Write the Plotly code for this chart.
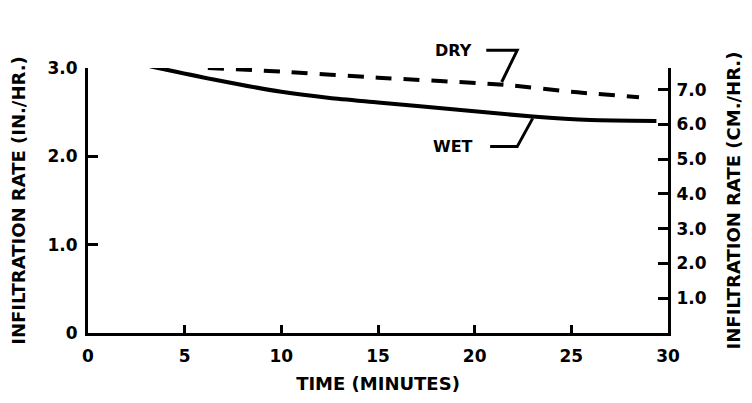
import numpy as np
import plotly.graph_objects as go

# Data
wet_t = [3.2, 6.5, 10.0, 12.5, 15.0, 19.0, 23.0, 26.0, 29.4]
wet_v = [3.02, 2.87, 2.73, 2.66, 2.61, 2.53, 2.45, 2.41, 2.40]
dry_t = [6.2, 10.0, 15.0, 21.5, 25.0, 28.5]
dry_v = [3.00, 2.96, 2.89, 2.81, 2.73, 2.67]

x_ticks = [0, 5, 10, 15, 20, 25, 30]
x_ticklabels = ["0", "5", "10", "15", "20", "25", "30"]
yl_ticks = [0, 1, 2, 3]
yl_ticklabels = ["0", "1.0", "2.0", "3.0"]
yr_ticks = [1, 2, 3, 4, 5, 6, 7]
yr_ticklabels = ["1.0", "2.0", "3.0", "4.0", "5.0", "6.0", "7.0"]
CM_PER_IN = 2.54
Y_MAX = 3.0

FONT = "DejaVu Sans"
tickfont = dict(family=FONT, size=17, color="black", weight="bold")
titlefont = dict(family=FONT, size=18, color="black", weight="bold")
labelfont = dict(family=FONT, size=16, color="black", weight="bold")

fig = go.Figure()
fig.add_trace(go.Scatter(x=wet_t, y=wet_v, mode="lines", name="WET",
                         line=dict(color="black", width=4, shape="spline", smoothing=0.6)))
fig.add_trace(go.Scatter(x=dry_t, y=dry_v, mode="lines", name="DRY",
                         line=dict(color="black", width=4, dash="16px,12px",
                                   shape="spline", smoothing=0.6)))
# invisible trace to activate the right axis
fig.add_trace(go.Scatter(x=[0], y=[0], yaxis="y2", mode="markers",
                         marker=dict(opacity=0), showlegend=False, hoverinfo="skip"))

# leader lines for labels (y in paper units so they are not clipped)
def py(v):
    return v / Y_MAX

dry_pt_t = 21.4
dry_pt_v = float(np.interp(dry_pt_t, dry_t, dry_v))
wet_pt_t = 23.0
wet_pt_v = float(np.interp(wet_pt_t, wet_t, wet_v))
lw = dict(color="black", width=3)
fig.add_shape(type="path", xref="x", yref="paper",
              path=f"M 20.6 {py(3.2)} L 22.2 {py(3.2)} L {dry_pt_t} {py(dry_pt_v + 0.03)}",
              line=lw)
fig.add_shape(type="path", xref="x", yref="paper",
              path=f"M 20.8 {py(2.11)} L 22.2 {py(2.11)} L {wet_pt_t} {py(wet_pt_v - 0.02)}",
              line=lw)

fig.add_annotation(x=18.9, y=py(3.2), text="DRY", showarrow=False, font=labelfont,
                   xref="x", yref="paper", yanchor="middle", xanchor="center")
fig.add_annotation(x=18.9, y=py(2.11), text="WET", showarrow=False, font=labelfont,
                   xref="x", yref="paper", yanchor="middle", xanchor="center")

axis_common = dict(showgrid=False, zeroline=False, showline=True, linecolor="black",
                   linewidth=3, ticks="inside", tickwidth=3, tickcolor="black",
                   tickfont=tickfont)

fig.update_layout(
    width=752, height=403,
    margin=dict(l=88, r=84, t=68, b=70),
    paper_bgcolor="white", plot_bgcolor="white",
    showlegend=False,
    xaxis=dict(range=[0, 30], tickvals=x_ticks, ticktext=x_ticklabels, ticklen=8,
               ticklabelstandoff=6,
               title=dict(text="TIME (MINUTES)", standoff=12, font=titlefont),
               **axis_common),
    yaxis=dict(range=[0, Y_MAX], tickvals=yl_ticks, ticktext=yl_ticklabels, ticklen=10,
               ticklabelstandoff=4,
               title=dict(text="INFILTRATION RATE (IN./HR.)", standoff=18, font=titlefont),
               **axis_common),
    yaxis2=dict(range=[0, Y_MAX * CM_PER_IN], overlaying="y", side="right",
                tickvals=yr_ticks, ticktext=yr_ticklabels, ticklen=10,
                ticklabelstandoff=2,
                title=dict(text="INFILTRATION RATE (CM./HR.)", standoff=22, font=titlefont),
                **axis_common),
)

fig.write_html("out.html")
